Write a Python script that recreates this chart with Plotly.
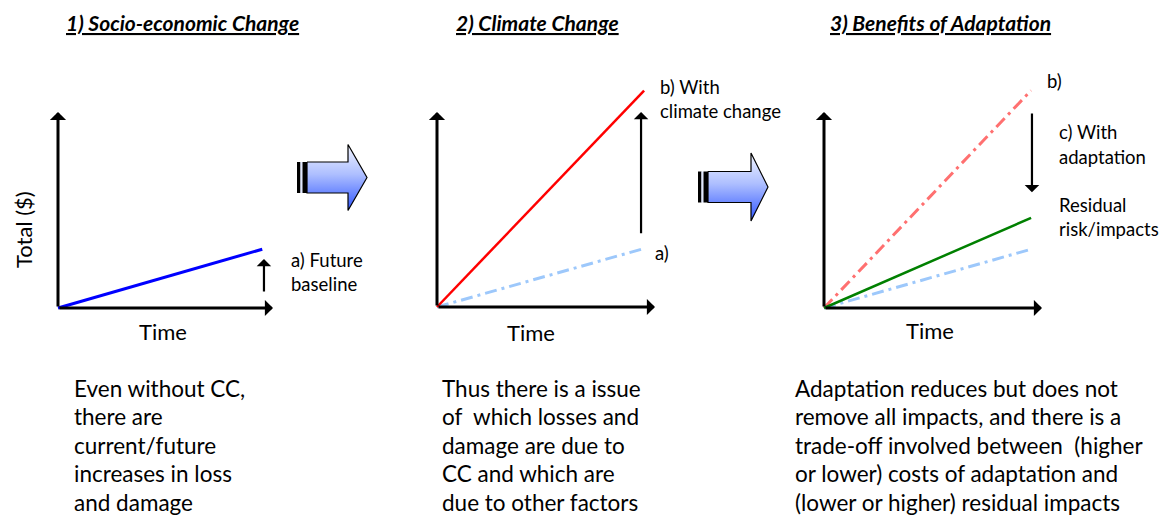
import plotly.graph_objects as go

# ---------------- data (normalised units: time 0..1, total 0..1) ----------------
time = [0, 0.95]
future_baseline = [0, 0.30]
with_climate_change = [0, 1.11]
with_adaptation = [0, 0.46]

titles = ["1) Socio-economic Change", "2) Climate Change", "3) Benefits of Adaptation"]
x_label = "Time"
y_label = "Total ($)"
notes1 = ["Even without CC,", "there are", "current/future", "increases in loss", "and damage"]
notes2 = ["Thus there is a issue", "of  which losses and", "damage are due to", "CC and which are", "due to other factors"]
notes3 = ["Adaptation reduces but does not", "remove all impacts, and there is a",
          "trade-off involved between  (higher", "or lower) costs of adaptation and",
          "(lower or higher) residual impacts"]

W, H = 1168, 517
FONT = "Lato"

# panel geometry in pixels: origin x, origin y, x-axis tip x, y-axis tip y
panels = [(58, 308, 273, 112), (437, 307, 655, 112), (824, 308, 1042, 112)]
R0, R1 = -0.1, 1.2

fig = go.Figure()
layout_axes = {}
for i, (ox, oy, tx, ty) in enumerate(panels, start=1):
    sx = tx - ox
    sy = oy - ty
    xd = [(ox + R0 * sx) / W, (ox + R1 * sx) / W]
    yd = [1 - (oy - R0 * sy) / H, 1 - (oy - R1 * sy) / H]
    sfx = "" if i == 1 else str(i)
    layout_axes["xaxis" + sfx] = dict(domain=xd, range=[R0, R1], visible=False, fixedrange=True,
                                      anchor="y" + sfx)
    layout_axes["yaxis" + sfx] = dict(domain=yd, range=[R0, R1], visible=False, fixedrange=True,
                                      anchor="x" + sfx)

# decoration axis in pixel units
layout_axes["xaxis4"] = dict(domain=[0, 1], range=[0, W], visible=False, fixedrange=True, anchor="y4")
layout_axes["yaxis4"] = dict(domain=[0, 1], range=[H, 0], visible=False, fixedrange=True, anchor="x4")

LIGHT_BLUE = "#9dc8fb"
DASHDOT = "12px,5px,3px,5px"

# block arrows (decoration, pixel units)
def block_arrow(x0, body_start, head_base, tip, cy, body_h, head_h):
    xs = [body_start, head_base, head_base, tip, head_base, head_base, body_start, body_start]
    ys = [cy - body_h, cy - body_h, cy - head_h, cy, cy + head_h, cy + body_h, cy + body_h, cy - body_h]
    fig.add_trace(go.Scatter(x=xs, y=ys, mode="lines", fill="toself", xaxis="x4", yaxis="y4",
                             line=dict(color="#000000", width=1.2),
                             fillgradient=dict(type="vertical", start=cy - head_h, stop=cy + head_h,
                                               colorscale=[[0, "#f2f5ff"], [0.45, "#aebfff"], [1, "#2f55ff"]]),
                             showlegend=False, hoverinfo="skip"))
    for (a, b, c) in [(x0, x0 + 3.5, "#000000"), (x0 + 3.5, x0 + 5.5, "#dfe6ff"), (x0 + 5.5, body_start, "#000000")]:
        fig.add_shape(type="rect", xref="x4", yref="y4", x0=a, x1=b, y0=cy - body_h, y1=cy + body_h,
                      fillcolor=c, line=dict(width=0))

block_arrow(297, 307, 348, 367, 177.5, 15.5, 33)
block_arrow(698, 708, 751, 768, 187, 15.5, 34)

# panel 1
fig.add_trace(go.Scatter(x=time, y=future_baseline, mode="lines", xaxis="x", yaxis="y",
                         line=dict(color="#0000ff", width=3), showlegend=False, hoverinfo="skip"))
# panel 2
fig.add_trace(go.Scatter(x=time, y=future_baseline, mode="lines", xaxis="x2", yaxis="y2",
                         line=dict(color=LIGHT_BLUE, width=3, dash=DASHDOT), showlegend=False, hoverinfo="skip"))
fig.add_trace(go.Scatter(x=time, y=with_climate_change, mode="lines", xaxis="x2", yaxis="y2",
                         line=dict(color="#ff0000", width=2.5), showlegend=False, hoverinfo="skip"))
# panel 3
fig.add_trace(go.Scatter(x=time, y=with_climate_change, mode="lines", xaxis="x3", yaxis="y3",
                         line=dict(color="#ff7070", width=3, dash=DASHDOT), showlegend=False, hoverinfo="skip"))
fig.add_trace(go.Scatter(x=time, y=future_baseline, mode="lines", xaxis="x3", yaxis="y3",
                         line=dict(color=LIGHT_BLUE, width=3, dash=DASHDOT), showlegend=False, hoverinfo="skip"))
fig.add_trace(go.Scatter(x=time, y=with_adaptation, mode="lines", xaxis="x3", yaxis="y3",
                         line=dict(color="#008000", width=2.5), showlegend=False, hoverinfo="skip"))

ann = []
def axis_arrow(xr, yr, x, y, ax, ay, width=3, size=0.9):
    ann.append(dict(xref=xr, yref=yr, axref=xr, ayref=yr, x=x, y=y, ax=ax, ay=ay, text="",
                    showarrow=True, arrowhead=1, arrowsize=size, arrowwidth=width,
                    arrowcolor="#000000", standoff=0, startstandoff=0))

for sfx in ["", "2", "3"]:
    xr, yr = "x" + sfx, "y" + sfx
    axis_arrow(xr, yr, 1, 0, 0, 0)
    axis_arrow(xr, yr, 0, 1, 0, 0)

# change arrows
axis_arrow("x", "y", 0.958, 0.25, 0.958, 0.077, width=2.2, size=1.1)
axis_arrow("x2", "y2", 0.936, 1.0, 0.936, 0.37, width=2.2, size=1.1)
axis_arrow("x3", "y3", 0.954, 0.59, 0.954, 1.0, width=2.2, size=1.1)

def txt(x, y, s, size, xanchor="left", angle=0, yanchor="middle"):
    ann.append(dict(xref="x4", yref="y4", x=x, y=y, text=s, showarrow=False, xanchor=xanchor,
                    yanchor=yanchor, textangle=angle,
                    font=dict(family=FONT, size=size, color="#000000")))

# titles
for cx, t in zip([182, 537, 940], titles):
    txt(cx, 22, "<b><i><u>" + t + "</u></i></b>", 21, xanchor="center")

# axis labels
txt(163, 331, x_label, 22, xanchor="center")
txt(531, 332, x_label, 22, xanchor="center")
txt(930, 330, x_label, 22, xanchor="center")
txt(23, 230, y_label, 22, xanchor="center", angle=-90)

# line labels
txt(289, 260, "a) Future", 18.5)
txt(289, 284, "baseline", 18.5)
txt(658, 87, "b) With", 18.5)
txt(658, 111, "climate change", 18.5)
txt(653, 253, "a)", 18.5)
txt(1045, 81, "b)", 18.5)
txt(1057, 132, "c) With", 18.5)
txt(1057, 157, "adaptation", 18.5)
txt(1057, 205, "Residual", 18.5)
txt(1057, 229, "risk/impacts", 18.5)

# notes
line_y = [388, 416.5, 445, 473.5, 502]
for notes, x0 in [(notes1, 72), (notes2, 440), (notes3, 793)]:
    for s, y in zip(notes, line_y):
        txt(x0, y, s, 22.5)

fig.update_layout(width=W, height=H, autosize=False, margin=dict(l=0, r=0, t=0, b=0),
                  paper_bgcolor="white", plot_bgcolor="rgba(0,0,0,0)", showlegend=False,
                  annotations=ann, **layout_axes)

fig.write_html("out.html", config={"displayModeBar": False},
               post_script="document.body.style.margin='0';document.body.style.overflow='hidden';")
